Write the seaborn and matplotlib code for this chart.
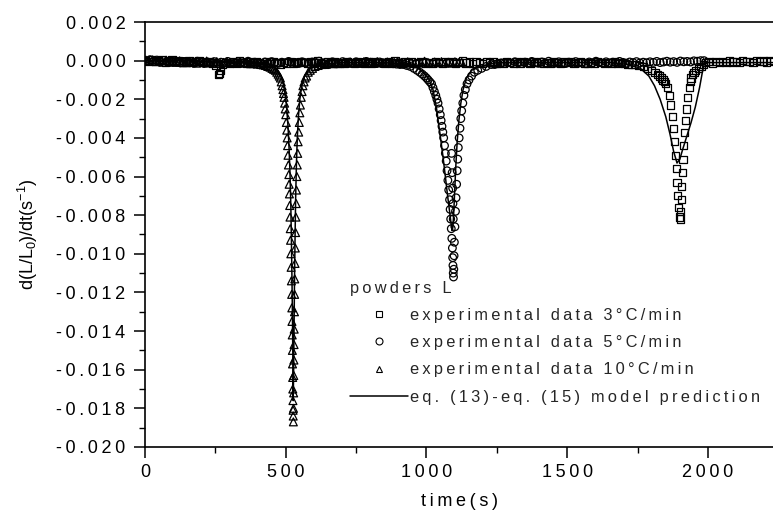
import matplotlib
matplotlib.use("Agg")
import matplotlib.pyplot as plt
from matplotlib.lines import Line2D
from matplotlib.ticker import MultipleLocator, FuncFormatter
import seaborn as sns
import pandas as pd

# baseline readings are stored in units of 1e-5 1/s, sampled every 12 s
STEP = 12

# 3 C/min (squares)
sq_base_start = 0
sq_base = [2, -3, 5, -6, 0, 4, -8, -2, 3, -5, 1, -7,
           -4, 2, -9, -3, 0, -6, -10, -4, -12, -25, -65, -18,
           -8, -14, -5, -11, -2, -9, -15, -6, -12, -3, -10, -16,
           -7, -13, -4, -10, -17, -8, -12, -5, -14, -9, -3, -11,
           -15, -6, -12, -2, -9, -14, -7, -11, -4, -13, -8, -16,
           -5, -10, -14, -3, -9, -12, -7, -15, -4, -11, -8, -13,
           -6, -12, -2, -10, -15, -7, -11, -4, -14, -9, -5, -12,
           -8, -13, -3, -10, -16, -6, -11, -5, -14, -9, -2, -12,
           -7, -15, -4, -10, -13, -6, -11, -3, -14, -8, -12, -5,
           -10, -15, -6, -12, -3, -9, -14, -7, -11, -4, -13, -8,
           -12, -5, -10, -15, -7, -11, -3, -14, -9, -6, -12, -16,
           -8, -13, -5, -10, -15, -9, -12, -6, -14, -11, -16, -18,
           -20]
sq_peak = [(260, -0.0007), (268, -0.0005),
           (1740, -0.0002), (1755, -0.00025), (1770, -0.0003), (1785, -0.0004), (1800, -0.0005),
           (1812, -0.0006), (1820, -0.0007), (1828, -0.0008), (1835, -0.0009), (1840, -0.0010),
           (1845, -0.0011), (1850, -0.0012), (1855, -0.0014), (1862, -0.0018), (1868, -0.0023),
           (1873, -0.0029), (1877, -0.0035), (1881, -0.0042), (1884, -0.0049), (1887, -0.0056),
           (1890, -0.0063), (1893, -0.0070), (1896, -0.0076), (1899, -0.0081), (1901, -0.0082),
           (1903, -0.0078), (1905, -0.0072), (1907, -0.0065), (1909, -0.0058), (1911, -0.0051),
           (1914, -0.0044), (1917, -0.0037), (1920, -0.0031), (1924, -0.0025), (1928, -0.0019),
           (1933, -0.0014), (1937, -0.0011), (1940, -0.0009), (1945, -0.0007), (1950, -0.0006),
           (1957, -0.0005), (1965, -0.0004), (1975, -0.0003), (1985, -0.0002)]
sq_end_start = 1992
sq_end = [-10, -5, -12, -3, -8, -6, -11, -2, -7, -4, -9, 0, -6, -3, -8, 2, -5, -2, -7, 0, -4]

# 5 C/min (circles)
ci_base_start = 6
ci_base = [0, 5, -4, 3, -7, 1, -5, -9, -2, -8, -12, -4,
           -10, -6, -13, -3, -9, -15, -7, -11, -5, -14, -8, -12,
           -4, -10, -15, -6, -12, -9, -3, -13, -8, -11, -16, -7,
           -12, -5, -10, -14, -8, -11, -4, -13, -9, -15, -6, -10,
           -14, -7, -11, -3, -12, -9, -16, -6, -10, -13, -5, -11,
           -8, -14, -6, -12, -9, -4, -13, -10, -15, -7, -11, -12,
           -14, -16, -18, -20]
ci_peak = [(918, -0.0002), (930, -0.00025), (942, -0.0003), (955, -0.0004), (966, -0.0005),
           (976, -0.0006), (985, -0.0007), (993, -0.0008), (1000, -0.0009), (1006, -0.0010),
           (1012, -0.0011), (1018, -0.0012), (1023, -0.0014), (1028, -0.0016), (1033, -0.0018),
           (1037, -0.0020), (1041, -0.0022), (1045, -0.0025), (1049, -0.0028), (1052, -0.0031),
           (1055, -0.0034), (1058, -0.0037), (1061, -0.0040), (1064, -0.0044), (1067, -0.0048),
           (1070, -0.0052), (1073, -0.0057), (1076, -0.0062), (1079, -0.0067), (1082, -0.0072),
           (1084, -0.0077), (1086, -0.0082), (1088, -0.0087), (1090, -0.0092), (1092, -0.0097),
           (1093, -0.0102), (1094, -0.0106), (1095, -0.0110), (1096, -0.0112), (1097, -0.0108),
           (1098, -0.0101), (1099, -0.0094), (1101, -0.0086), (1103, -0.0078), (1105, -0.0071),
           (1107, -0.0064), (1109, -0.0057), (1111, -0.0051), (1113, -0.0045), (1116, -0.0040),
           (1119, -0.0035), (1122, -0.0030), (1125, -0.0026), (1129, -0.0022), (1133, -0.0018),
           (1138, -0.0015), (1144, -0.0012), (1151, -0.0010), (1160, -0.0008), (1170, -0.0006),
           (1182, -0.0005), (1196, -0.0004), (1212, -0.0003), (1230, -0.0002),
           (1089, -0.0048), (1091, -0.0058), (1093, -0.0066), (1094, -0.0074), (1095, -0.0082),
           (1986, 0.0)]
ci_end_start = 1242
ci_end = [-20, -16, -12, -14, -9, -13, -6, -11, -15, -8, -12, -4,
          -10, -14, -7, -12, -3, -9, -13, -6, -11, -15, -8, -10,
          -5, -12, -9, -14, -7, -11, -3, -10, -13, -6, -12, -8,
          -11, -4, -9, -13, -7, -10, -5, -12, -8, -11, -6, -9,
          -4, -10, -7, -3, -8, -5, -9, -2, -6, -4, -7, -1,
          -3, 0]

# 10 C/min (triangles)
tr_base_start = 3
tr_base = [3, -2, 4, -5, 0, -8, 2, -6, -3, -9, -1, -7,
           -11, -4, -9, -13, -6, -10, -2, -12, -8, -5, -14, -9,
           -6, -12, -10, -15, -7, -13, -11, -16, -12, -18, -20]
tr_peak = [(420, -0.00022), (428, -0.00025), (436, -0.0003), (444, -0.00034), (451, -0.0004),
           (457, -0.00045), (463, -0.0005), (468, -0.0006), (473, -0.0007), (477, -0.0008),
           (481, -0.0009), (484, -0.0011), (487, -0.0013), (490, -0.0015), (492, -0.0017),
           (494, -0.0019), (496, -0.0022), (498, -0.0025), (500, -0.0028), (502, -0.0032),
           (503.5, -0.0036), (505, -0.0040), (506.5, -0.0044), (508, -0.0049), (509.5, -0.0054),
           (511, -0.0059), (512, -0.0064), (513, -0.0069), (514, -0.0075), (515, -0.0081),
           (516, -0.0087), (517, -0.0093), (518, -0.0100), (519, -0.0107), (520, -0.0114),
           (521, -0.0121), (521.5, -0.0128), (522, -0.0135), (523, -0.0142), (523.5, -0.0150),
           (524, -0.0157), (524.5, -0.0164), (525, -0.0170), (525.5, -0.0176), (526, -0.0181),
           (526.5, -0.0184), (527, -0.0187), (527.5, -0.0180), (528, -0.0172), (528.5, -0.0163),
           (529, -0.0155), (529.5, -0.0147), (530, -0.0139), (531, -0.0130), (531.5, -0.0121),
           (532, -0.0113), (533, -0.0105), (534, -0.0097), (535, -0.0089), (536, -0.0081),
           (537, -0.0074), (538, -0.0067), (539.5, -0.0060), (541, -0.0054), (542.5, -0.0048),
           (544, -0.0042), (546, -0.0037), (548, -0.0032), (550, -0.0027), (552, -0.0023),
           (555, -0.0019), (558, -0.0016), (561, -0.0013), (565, -0.0011), (569, -0.0009),
           (574, -0.0008), (580, -0.0006), (587, -0.0005), (595, -0.0004), (604, -0.0003),
           (615, -0.00025), (628, -0.0002), (640, -0.0002)]
tr_end_start = 645
tr_end = [-18, -14, -16, -11, -15, -9, -13, -7, -12, -10, -14, -6,
          -11, -8, -13, -5, -10, -14, -7, -12, -9, -4, -11, -13,
          -6, -10, -15, -8, -12, -3, -9, -14, -7, -11, -5, -12,
          -8, -13, -6, -10, -9]

# eq. (13)-eq. (15) model
model_t = [0, 150, 300, 400, 440, 465, 480, 490, 497, 503,
           508, 512, 515, 518, 520, 522, 524, 525.5, 526.5, 528,
           529.5, 531, 533, 535, 538, 541, 545, 550, 557, 567,
           585, 620, 700, 850, 930, 970, 995, 1010, 1023, 1035,
           1048, 1058, 1067, 1075, 1082, 1087, 1091, 1094, 1097, 1100,
           1104, 1109, 1115, 1122, 1130, 1142, 1160, 1190, 1250, 1650,
           1720, 1760, 1790, 1810, 1830, 1850, 1865, 1878, 1890, 1900,
           1910, 1925, 1940, 1955, 1970, 1980, 1988, 2020, 2230]
model_v = [0.0, 0.0, -0.0001, -0.0001, -0.0002, -0.0004, -0.0007, -0.0011, -0.0016, -0.0024,
           -0.0034, -0.0046, -0.0058, -0.0075, -0.0092, -0.0112, -0.0135, -0.0158, -0.0176, -0.0160,
           -0.0138, -0.0115, -0.0092, -0.0072, -0.0053, -0.0040, -0.0029, -0.0020, -0.0013, -0.0008,
           -0.0004, -0.0002, -0.0001, -0.0001, -0.0002, -0.0004, -0.0007, -0.0010, -0.0015, -0.0024,
           -0.0038, -0.0049, -0.0060, -0.0070, -0.0078, -0.0084, -0.0088, -0.0086, -0.0078, -0.0068,
           -0.0055, -0.0042, -0.0031, -0.0022, -0.0015, -0.0009, -0.0005, -0.0003, -0.0001, -0.0001,
           -0.0002, -0.0004, -0.0008, -0.0013, -0.0020, -0.0029, -0.0038, -0.0047, -0.0053, -0.0051,
           -0.0046, -0.0039, -0.0032, -0.0024, -0.0014, -0.0006, -0.0001, -0.0001, -0.0001]

labels = ["experimental data 3°C/min", "experimental data 5°C/min",
          "experimental data 10°C/min", "eq. (13)-eq. (15) model prediction"]
legend_title = "powders L"

TS = "\u2009"


def spaced(s):
    return TS.join(s)


def build(segments, peak):
    t, v = [], []
    for start, vals in segments:
        t += [start + STEP * i for i in range(len(vals))]
        v += [x * 1e-5 for x in vals]
    t += [p[0] for p in peak]
    v += [p[1] for p in peak]
    return pd.DataFrame({"time": t, "rate": v})


sns.set_theme(style="ticks")
plt.rcParams["font.family"] = ["Liberation Sans", "DejaVu Sans"]
plt.rcParams["mathtext.default"] = "regular"
plt.rcParams["axes.unicode_minus"] = False

fig = plt.figure(figsize=(7.73, 5.13), dpi=100)
ax = fig.add_axes([0.1876, 0.1287, 0.8124, 0.8284])

series = [
    (build([(sq_base_start, sq_base), (sq_end_start, sq_end)], sq_peak), "s", 27),
    (build([(ci_base_start, ci_base), (ci_end_start, ci_end)], ci_peak), "o", 30),
    (build([(tr_base_start, tr_base), (tr_end_start, tr_end)], tr_peak), "^", 32),
]
for df, m, s in series:
    sns.scatterplot(data=df, x="time", y="rate", marker=m, s=s, ax=ax,
                    facecolor="none", edgecolor="black", linewidth=0.9, zorder=2)

mdf = pd.DataFrame({"time": model_t, "rate": model_v})
sns.lineplot(data=mdf, x="time", y="rate", ax=ax, color="black", lw=1.1,
             sort=False, estimator=None, zorder=3)

ax.set_xlim(0, 2231)
ax.set_ylim(-0.020, 0.002)
ax.xaxis.set_major_locator(MultipleLocator(500))
ax.xaxis.set_minor_locator(MultipleLocator(250))
ax.yaxis.set_major_locator(MultipleLocator(0.002))
ax.yaxis.set_minor_locator(MultipleLocator(0.001))
ax.xaxis.set_major_formatter(FuncFormatter(lambda v, p: spaced(f"{v:.0f}")))


def yfmt(v, p):
    s = f"{v:.3f}"
    if s == "-0.000":
        s = "0.000"
    return spaced(s)


ax.yaxis.set_major_formatter(FuncFormatter(yfmt))
ax.tick_params(which="major", direction="out", length=8, width=1.1, labelsize=13,
               color="black", labelcolor="black")
ax.tick_params(axis="y", which="major", pad=6)
ax.tick_params(axis="x", which="major", pad=4)
ax.tick_params(which="minor", direction="out", length=4, width=1.0, color="black")
for side in ["left", "bottom", "top"]:
    ax.spines[side].set_linewidth(1.2)
    ax.spines[side].set_color("black")
ax.spines["right"].set_visible(False)

ax.set_xlabel(spaced("time(s)"), fontsize=13, color="black", labelpad=9)
ax.set_ylabel("d(L/L$_0$)/dt(s$^{-1}$)", fontsize=13, color="black", labelpad=12)

handles = [
    Line2D([], [], ls="none", marker="s", ms=5, mfc="none", mec="black", mew=0.8),
    Line2D([], [], ls="none", marker="o", ms=5, mfc="none", mec="black", mew=0.8),
    Line2D([], [], ls="none", marker="^", ms=5, mfc="none", mec="black", mew=0.8),
    Line2D([], [], color="black", lw=1.1),
]
leg = ax.legend(handles, [spaced(l) for l in labels], title=spaced(legend_title),
                loc="lower right", bbox_to_anchor=(0.992, 0.08), frameon=False,
                fontsize=11.8, title_fontsize=11.8, handlelength=3.5, handletextpad=0.12,
                labelspacing=0.75, borderpad=0, alignment="left")

fig.savefig("out.png", dpi=100)
